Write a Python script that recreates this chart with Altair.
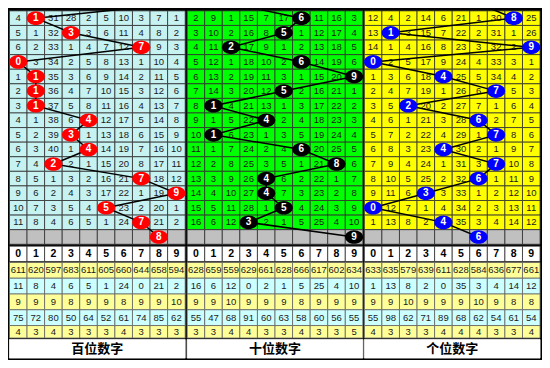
import altair as alt
import pandas as pd

# ---------------- data ----------------
digits = list(range(10))
panel_titles = ["百位数字", "十位数字", "个位数字"]

# winning digit of each period (rows top to bottom), previous period and forecast
bai_draws = [1, 3, 7, 0, 1, 1, 1, 4, 3, 4, 2, 7, 9, 5, 7]
shi_draws = [6, 5, 2, 6, 9, 5, 1, 4, 1, 6, 8, 4, 4, 5, 3]
ge_draws = [8, 1, 9, 0, 4, 7, 2, 6, 7, 4, 7, 6, 3, 0, 4]
prev_draws = [9, 2, 6]
next_draws = [8, 9, 6]

bai_grid = [
    [4, 1, 31, 28, 2, 5, 10, 3, 7, 1],
    [5, 1, 32, 3, 3, 6, 11, 4, 8, 2],
    [6, 2, 33, 1, 4, 7, 12, 7, 9, 3],
    [0, 3, 34, 2, 5, 8, 13, 1, 10, 4],
    [1, 1, 35, 3, 6, 9, 14, 2, 11, 5],
    [2, 1, 36, 4, 7, 10, 15, 3, 12, 6],
    [3, 1, 37, 5, 8, 11, 16, 4, 13, 7],
    [4, 1, 38, 6, 4, 12, 17, 5, 14, 8],
    [5, 2, 39, 3, 1, 13, 18, 6, 15, 9],
    [6, 3, 40, 1, 4, 14, 19, 7, 16, 10],
    [7, 4, 2, 2, 1, 15, 20, 8, 17, 11],
    [8, 5, 1, 3, 2, 16, 21, 7, 18, 12],
    [9, 6, 2, 4, 3, 17, 22, 1, 19, 9],
    [10, 7, 3, 5, 4, 5, 23, 2, 20, 1],
    [11, 8, 4, 6, 5, 1, 24, 7, 21, 2],
]
shi_grid = [
    [2, 9, 1, 15, 7, 17, 6, 11, 16, 3],
    [3, 10, 2, 16, 8, 5, 1, 12, 17, 4],
    [4, 11, 2, 17, 9, 1, 2, 13, 18, 5],
    [5, 12, 1, 18, 10, 2, 6, 14, 19, 6],
    [6, 13, 2, 19, 11, 3, 1, 15, 20, 9],
    [7, 14, 3, 20, 12, 5, 2, 16, 21, 1],
    [8, 1, 4, 21, 13, 1, 3, 17, 22, 2],
    [9, 1, 5, 22, 4, 2, 4, 18, 23, 3],
    [10, 1, 6, 23, 1, 3, 5, 19, 24, 4],
    [11, 1, 7, 24, 2, 4, 6, 20, 25, 5],
    [12, 2, 8, 25, 3, 5, 1, 21, 8, 6],
    [13, 3, 9, 26, 4, 6, 2, 22, 1, 7],
    [14, 4, 10, 27, 4, 7, 3, 23, 2, 8],
    [15, 5, 11, 28, 1, 5, 4, 24, 3, 9],
    [16, 6, 12, 3, 2, 1, 5, 25, 4, 10],
]
ge_grid = [
    [12, 4, 2, 14, 6, 21, 1, 30, 8, 25],
    [13, 1, 3, 15, 7, 22, 2, 31, 1, 26],
    [14, 1, 4, 16, 8, 23, 3, 32, 2, 9],
    [0, 2, 5, 17, 9, 24, 4, 33, 3, 1],
    [1, 3, 6, 18, 4, 25, 5, 34, 4, 2],
    [2, 4, 7, 19, 1, 26, 6, 7, 5, 3],
    [3, 5, 2, 20, 2, 27, 7, 1, 6, 4],
    [4, 6, 1, 21, 3, 28, 6, 2, 7, 5],
    [5, 7, 2, 22, 4, 29, 1, 7, 8, 6],
    [6, 8, 3, 23, 4, 30, 2, 1, 9, 7],
    [7, 9, 4, 24, 1, 31, 3, 7, 10, 8],
    [8, 10, 5, 25, 2, 32, 6, 1, 11, 9],
    [9, 11, 6, 3, 3, 33, 1, 2, 12, 10],
    [0, 12, 7, 1, 4, 34, 2, 3, 13, 11],
    [1, 13, 8, 2, 4, 35, 3, 4, 14, 12],
]

bai_stats = [
    [611, 620, 597, 683, 611, 605, 660, 644, 658, 594],
    [11, 8, 4, 6, 5, 1, 24, 0, 21, 2],
    [9, 9, 9, 8, 9, 9, 8, 9, 9, 10],
    [75, 72, 80, 50, 64, 52, 61, 74, 85, 62],
    [4, 3, 4, 3, 3, 3, 4, 3, 3, 3],
]
shi_stats = [
    [628, 659, 559, 629, 661, 628, 666, 617, 602, 634],
    [16, 6, 12, 0, 2, 1, 5, 25, 4, 10],
    [9, 9, 10, 9, 9, 9, 8, 9, 9, 9],
    [55, 47, 68, 91, 60, 63, 58, 60, 56, 55],
    [3, 3, 4, 4, 3, 3, 4, 3, 3, 5],
]
ge_stats = [
    [633, 635, 579, 639, 611, 628, 584, 636, 677, 661],
    [1, 13, 8, 2, 0, 35, 3, 4, 14, 12],
    [9, 9, 10, 9, 9, 9, 10, 9, 8, 8],
    [55, 98, 62, 71, 89, 68, 62, 54, 61, 54],
    [4, 3, 3, 3, 4, 4, 4, 3, 3, 4],
]

# ---------------- styling / layout ----------------
grids = [bai_grid, shi_grid, ge_grid]
draws = [bai_draws, shi_draws, ge_draws]
stats = [bai_stats, shi_stats, ge_stats]
panel_fill = ["#C6F2F2", "#00FF00", "#FFFF00"]
ball_fill = ["#FF0000", "#000000", "#0000FF"]
stat_fill = ["#FFFF99", "#CCFFFF", "#FFFF99", "#CCFFFF", "#FFFF99"]

X0 = [1.5, 184.5, 367.0]
CW = 18.1
Y0 = 3.0
RH = 15.25
HEAD_Y = (249.0, 265.0)
STAT_Y = [(266.0, 282.5), (282.5, 299.0), (299.0, 315.5), (315.5, 332.0), (332.0, 345.0)]
LABEL_Y = (346.5, 366.0)

rects, texts, bold_texts, balls, path, labels = [], [], [], [], [], []
for p in range(3):
    # data grid
    for r in range(16):
        for c in digits:
            x = X0[p] + c * CW
            y = Y0 + r * RH
            fill = "#C0C0C0" if r == 15 else panel_fill[p]
            rects.append(dict(x=x, x2=x + CW, y=y, y2=y + RH, fill=fill, stroke="#333333"))
            if r < 15 and draws[p][r] != c:
                texts.append(dict(xc=x + CW / 2, yc=y + RH / 2, t=str(grids[p][r][c])))
    # header row
    for c in digits:
        x = X0[p] + c * CW
        rects.append(dict(x=x, x2=x + CW, y=HEAD_Y[0], y2=HEAD_Y[1], fill="#FFFFFF", stroke="#333333"))
        bold_texts.append(dict(xc=x + CW / 2, yc=(HEAD_Y[0] + HEAD_Y[1]) / 2, t=str(c)))
    # statistic rows
    for k, (ya, yb) in enumerate(STAT_Y):
        for c in digits:
            x = X0[p] + c * CW
            rects.append(dict(x=x, x2=x + CW, y=ya, y2=yb, fill=stat_fill[k], stroke="#666666"))
            texts.append(dict(xc=x + CW / 2, yc=(ya + yb) / 2, t=str(stats[p][k][c])))
    # label row
    rects.append(dict(x=X0[p], x2=X0[p] + 10 * CW, y=LABEL_Y[0], y2=LABEL_Y[1], fill="#FFFFFF", stroke="#FFFFFF"))
    labels.append(dict(xc=X0[p] + 5 * CW, yc=(LABEL_Y[0] + LABEL_Y[1]) / 2, t=panel_titles[p]))
    # trend line and balls
    seq = [prev_draws[p]] + draws[p] + [next_draws[p]]
    for i, d in enumerate(seq):
        r = i - 1
        xc = X0[p] + (d + 0.5) * CW
        yc = Y0 + (r + 0.5) * RH
        path.append(dict(panel=p, o=i, xc=xc, yc=yc))
        if r >= 0:
            balls.append(dict(xc=xc, yc=yc, t=str(d), col=ball_fill[p]))

rect_df = pd.DataFrame(rects)
text_df = pd.DataFrame(texts)
bold_df = pd.DataFrame(bold_texts)
ball_df = pd.DataFrame(balls)
path_df = pd.DataFrame(path)
label_df = pd.DataFrame(labels)

xs = alt.Scale(domain=[0, 550], nice=False, zero=False)
ys = alt.Scale(domain=[0, 368], nice=False, zero=False, reverse=True)

ellipse = ("M -1 0 C -1 -0.41 -0.55 -0.75 0 -0.75 C 0.55 -0.75 1 -0.41 1 0 "
           "C 1 0.41 0.55 0.75 0 0.75 C -0.55 0.75 -1 0.41 -1 0 Z")

cells = alt.Chart(rect_df).mark_rect(strokeWidth=0.8).encode(
    x=alt.X("x:Q", scale=xs, axis=None),
    x2="x2:Q",
    y=alt.Y("y:Q", scale=ys, axis=None),
    y2="y2:Q",
    fill=alt.Fill("fill:N", scale=None),
    stroke=alt.Stroke("stroke:N", scale=None),
)

num_text = alt.Chart(text_df).mark_text(
    font="Liberation Sans", fontSize=9.5, color="#1a1a1a", align="center", baseline="middle"
).encode(x=alt.X("xc:Q", scale=xs, axis=None), y=alt.Y("yc:Q", scale=ys, axis=None), text="t:N")

head_text = alt.Chart(bold_df).mark_text(
    font="Liberation Sans", fontSize=10.5, fontWeight="bold", color="#000000", align="center", baseline="middle"
).encode(x=alt.X("xc:Q", scale=xs, axis=None), y=alt.Y("yc:Q", scale=ys, axis=None), text="t:N")

lines = alt.Chart(path_df).mark_line(color="#000000", strokeWidth=1.5, clip=True).encode(
    x=alt.X("xc:Q", scale=xs, axis=None),
    y=alt.Y("yc:Q", scale=ys, axis=None),
    detail="panel:N",
    order="o:Q",
)

ball_marks = alt.Chart(ball_df).mark_point(shape=ellipse, filled=True, size=330, opacity=1, strokeWidth=0).encode(
    x=alt.X("xc:Q", scale=xs, axis=None),
    y=alt.Y("yc:Q", scale=ys, axis=None),
    color=alt.Color("col:N", scale=None),
)

ball_text = alt.Chart(ball_df).mark_text(
    font="Liberation Sans", fontSize=10, fontWeight="bold", color="#FFFFFF", align="center", baseline="middle"
).encode(x=alt.X("xc:Q", scale=xs, axis=None), y=alt.Y("yc:Q", scale=ys, axis=None), text="t:N")

label_text = alt.Chart(label_df).mark_text(
    font="Noto Sans CJK SC", fontSize=13, fontWeight="bold", color="#000000", align="center", baseline="middle"
).encode(x=alt.X("xc:Q", scale=xs, axis=None), y=alt.Y("yc:Q", scale=ys, axis=None), text="t:N")

chart = alt.layer(cells, num_text, head_text, lines, ball_marks, ball_text, label_text).properties(
    width=534,
    height=352,
    background="#000000",
    padding=0,
    autosize=alt.AutoSizeParams(type="none"),
).configure_view(strokeWidth=0)

chart.save("out.html", embed_options={"renderer": "svg", "actions": False})
